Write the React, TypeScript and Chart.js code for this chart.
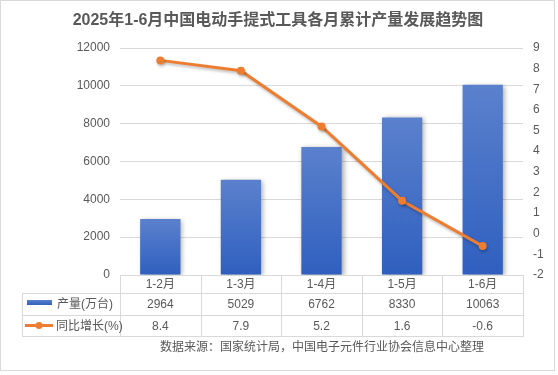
import React, { useEffect, useRef } from "react";
import { Chart, registerables } from "chart.js";

Chart.register(...registerables);

const titleText = "2025年1-6月中国电动手提式工具各月累计产量发展趋势图";
const sourceText = "数据来源：国家统计局，中国电子元件行业协会信息中心整理";
const categories = ["1-2月", "1-3月", "1-4月", "1-5月", "1-6月"];
const seriesNames = ["产量(万台)", "同比增长(%)"];
const production = [2964, 5029, 6762, 8330, 10063];
const growth = [8.4, 7.9, 5.2, 1.6, -0.6];
const growthLabels = ["8.4", "7.9", "5.2", "1.6", "-0.6"];

const FONT = "'Liberation Sans', 'Noto Sans CJK SC', sans-serif";
const TEXT = "#595959";
const GRID = "#d9d9d9";
const BAR_TOP = "#5b81cd";
const BAR_BOTTOM = "#2f5fbf";
const LINE = "#ed7d31";

const decorPlugin = {
  id: "decor",
  beforeDatasetDraw(chart: any, args: any) {
    const ctx = chart.ctx;
    ctx.save();
    if (args.index === 0) {
      ctx.shadowColor = "rgba(0,0,0,0.35)";
      ctx.shadowBlur = 5;
      ctx.shadowOffsetX = 2;
      ctx.shadowOffsetY = 1;
    } else {
      ctx.shadowColor = "rgba(0,0,0,0.25)";
      ctx.shadowBlur = 3;
      ctx.shadowOffsetX = 1;
      ctx.shadowOffsetY = 2;
    }
  },
  afterDatasetDraw(chart: any) {
    chart.ctx.restore();
  },
  afterDraw(chart: any) {
    const ctx = chart.ctx;
    const area = chart.chartArea;
    const n = categories.length;
    const colW = (area.right - area.left) / n;
    const y0 = area.bottom;
    const r1 = y0 + 18;
    const r2 = r1 + 22;
    const r3 = r2 + 21;
    const legL = 22;
    ctx.save();
    ctx.strokeStyle = GRID;
    ctx.lineWidth = 1;
    ctx.strokeRect(0.5, 0.5, 554, 370);
    ctx.fillStyle = TEXT;
    ctx.font = `bold 16px ${FONT}`;
    ctx.textAlign = "center";
    ctx.textBaseline = "middle";
    ctx.fillText(titleText, 278, 21);
    ctx.beginPath();
    for (let i = 0; i <= n; i++) {
      const x = Math.round(area.left + i * colW) + 0.5;
      ctx.moveTo(x, y0);
      ctx.lineTo(x, r3);
    }
    ctx.moveTo(legL + 0.5, r1);
    ctx.lineTo(legL + 0.5, r3);
    [r1, r2, r3].forEach((y) => {
      ctx.moveTo(legL, Math.round(y) + 0.5);
      ctx.lineTo(Math.round(area.right) + 1, Math.round(y) + 0.5);
    });
    ctx.strokeStyle = GRID;
    ctx.stroke();
    ctx.font = `12px ${FONT}`;
    ctx.fillStyle = TEXT;
    const xs = chart.scales.x;
    categories.forEach((c, i) => {
      const cx = xs.getPixelForValue(i);
      ctx.fillText(c, cx, (y0 + r1) / 2 + 1);
      ctx.fillText(String(production[i]), cx, (r1 + r2) / 2 + 1);
      ctx.fillText(growthLabels[i], cx, (r2 + r3) / 2 + 1);
    });
    const g = ctx.createLinearGradient(0, r1 + 7, 0, r1 + 12);
    g.addColorStop(0, BAR_TOP);
    g.addColorStop(1, BAR_BOTTOM);
    ctx.fillStyle = g;
    ctx.fillRect(27, r1 + 7, 25, 5);
    ctx.strokeStyle = LINE;
    ctx.lineWidth = 3;
    ctx.beginPath();
    const ly = (r2 + r3) / 2;
    ctx.moveTo(25, ly);
    ctx.lineTo(53, ly);
    ctx.stroke();
    ctx.fillStyle = LINE;
    ctx.beginPath();
    ctx.arc(39, ly, 3.5, 0, Math.PI * 2);
    ctx.fill();
    ctx.fillStyle = TEXT;
    ctx.textAlign = "left";
    ctx.fillText(seriesNames[0], 57, (r1 + r2) / 2 + 1);
    ctx.fillText(seriesNames[1], 56, ly + 1);
    ctx.fillText(sourceText, 160, 348);
    ctx.restore();
  },
};

export default function App() {
  const ref = useRef<HTMLCanvasElement | null>(null);
  useEffect(() => {
    document.body.style.margin = "0";
    const canvas = ref.current!;
    const chart = new Chart(canvas, {
      type: "bar",
      data: {
        labels: categories,
        datasets: [
          {
            type: "bar",
            label: seriesNames[0],
            data: production,
            yAxisID: "y",
            order: 1,
            barPercentage: 0.5,
            categoryPercentage: 1,
            backgroundColor: (c: any) => {
              const chart = c.chart;
              if (!chart.chartArea || c.type !== "data") return "#4472c4";
              const ys = chart.scales.y;
              const top = ys.getPixelForValue(c.parsed.y);
              const bottom = ys.getPixelForValue(0);
              const g = chart.ctx.createLinearGradient(0, top, 0, bottom);
              g.addColorStop(0, BAR_TOP);
              g.addColorStop(1, BAR_BOTTOM);
              return g;
            },
          } as any,
          {
            type: "line",
            label: seriesNames[1],
            data: growth,
            yAxisID: "y1",
            order: 0,
            borderColor: LINE,
            backgroundColor: LINE,
            borderWidth: 3,
            pointRadius: 4,
            pointBorderWidth: 0,
            pointBackgroundColor: LINE,
            tension: 0,
          } as any,
        ],
      },
      options: {
        animation: false,
        responsive: false,
        devicePixelRatio: 1,
        layout: { padding: { top: 48, left: 0, right: 0, bottom: 100 } },
        plugins: {
          legend: { display: false },
          title: { display: false },
          tooltip: { enabled: false },
        },
        scales: {
          x: { display: false, offset: true },
          y: {
            position: "left",
            min: 0,
            max: 12000,
            ticks: {
              stepSize: 2000,
              padding: 10,
              color: TEXT,
              font: { size: 12, family: FONT },
              callback: (v: any) => String(v),
            },
            grid: { color: GRID, drawTicks: false },
            border: { display: false },
            afterFit: (s: any) => {
              s.width = 120;
            },
          },
          y1: {
            position: "right",
            min: -2,
            max: 9,
            ticks: {
              stepSize: 1,
              padding: 10,
              color: TEXT,
              font: { size: 12, family: FONT },
              callback: (v: any) => String(v),
            },
            grid: { display: false, drawTicks: false },
            border: { display: false },
            afterFit: (s: any) => {
              s.width = 35;
            },
          },
        },
      } as any,
      plugins: [decorPlugin],
    });
    return () => chart.destroy();
  }, []);
  return (
    <div style={{ position: "absolute", left: 0, top: 0, width: 558, height: 375, background: "#fff" }}>
      <canvas ref={ref} width={558} height={375} style={{ width: 558, height: 375, display: "block" }} />
    </div>
  );
}
